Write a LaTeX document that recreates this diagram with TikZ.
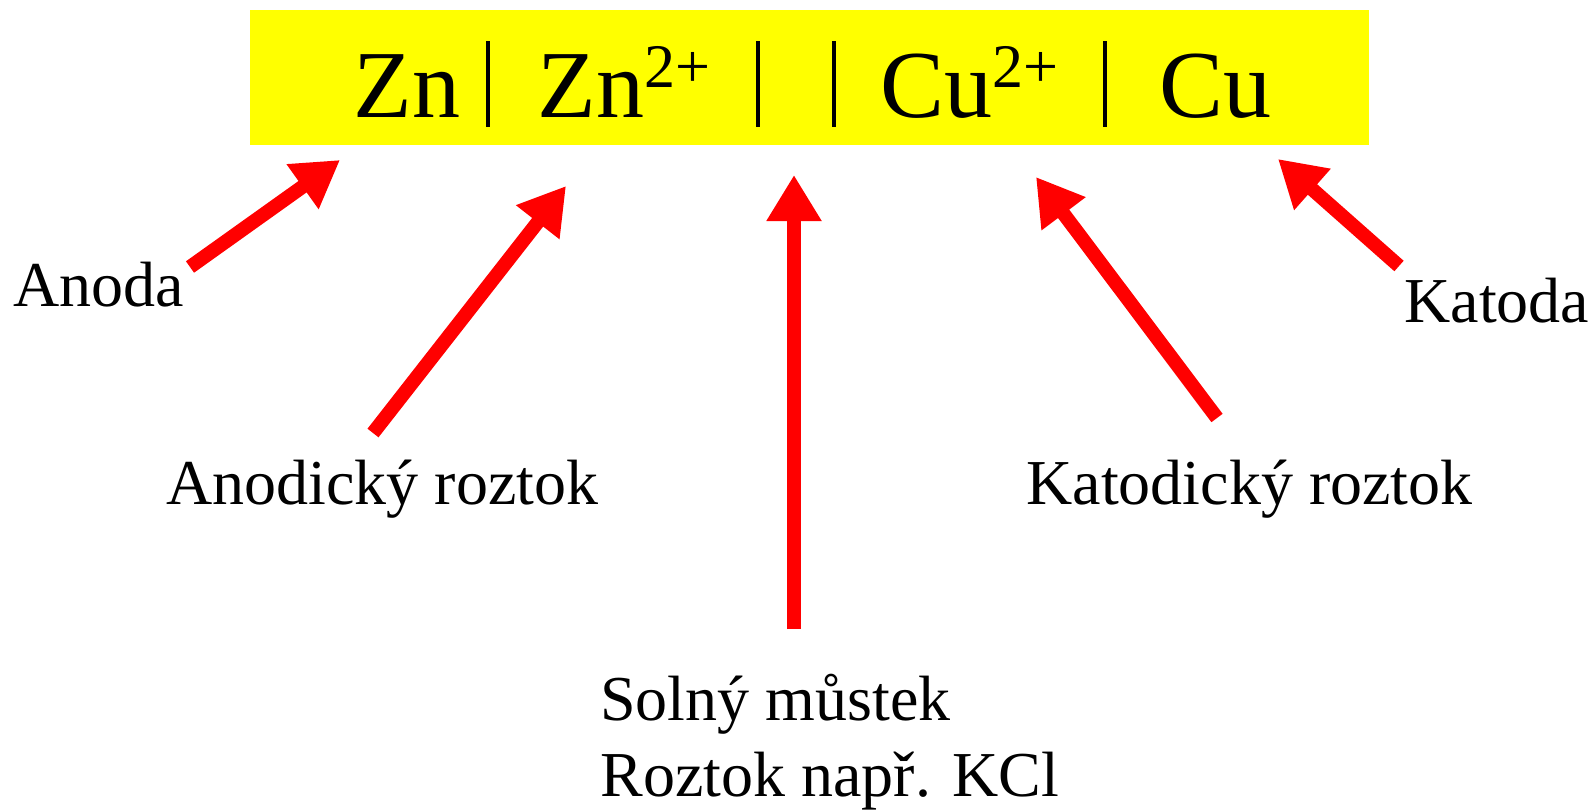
\documentclass[tikz,border=0pt]{standalone}
\usepackage{fontspec}
\setmainfont{Liberation Serif}
\usetikzlibrary{arrows.meta}
\definecolor{pruhzluta}{RGB}{255,255,0}
\definecolor{sipkacervena}{RGB}{255,0,0}
\newcommand{\naboj}[1]{\raisebox{15pt}{\fontsize{31}{31}\selectfont #1}}
\tikzset{
  clanek/.style={anchor=base west, inner sep=0pt, font=\fontsize{48}{50}\selectfont},
  popis/.style={anchor=base west, inner sep=0pt, font=\fontsize{32}{36}\selectfont},
  sipka/.style={->, line width=7pt, draw=sipkacervena},
  rozhrani/.style={line width=2pt}
}
\begin{document}
\begin{tikzpicture}[x=0.5pt, y=-0.5pt, >={Triangle[length=23pt,width=26pt]}]
  \useasboundingbox (0,0) rectangle (1590,809);

  % Zluty pruh se zapisem clanku
  \fill[pruhzluta] (250,10) rectangle (1369,145);
  \node[clanek] (zn) at (353,117) {Zn};
  \node[clanek] (znion) at (537,117) {Zn\naboj{2+}};
  \node[clanek] (cuion) at (880,117) {Cu\naboj{2+}};
  \node[clanek] (cu) at (1159,117) {Cu};

  % Fazova rozhrani
  \foreach \x in {488,758,834,1105}
    \draw[rozhrani] (\x,41) -- (\x,127);

  % Popisky
  \node[popis] (anoda) at (13,306) {Anoda};
  \node[popis] (anodroz) at (166,504) {Anodický roztok};
  \node[popis] (solny) at (600,720) {Solný můstek};
  \node[popis] (roztok) at (600,796) {Roztok např. KCl};
  \node[popis] (katodroz) at (1026,504) {Katodický roztok};
  \node[popis] (katoda) at (1404,322) {Katoda};

  % Sipky
  \coordinate (anodaA) at (190,267);  \coordinate (anodaB) at (340,160);
  \coordinate (anodrozA) at (373,433); \coordinate (anodrozB) at (566,186);
  \coordinate (mustekA) at (794,629); \coordinate (mustekB) at (794,175);
  \coordinate (katodrozA) at (1217,418); \coordinate (katodrozB) at (1036,177);
  \coordinate (katodaA) at (1399,266); \coordinate (katodaB) at (1278,159);

  \draw[sipka] (anodaA) -- (anodaB);
  \draw[sipka] (anodrozA) -- (anodrozB);
  \draw[sipka] (mustekA) -- (mustekB);
  \draw[sipka] (katodrozA) -- (katodrozB);
  \draw[sipka] (katodaA) -- (katodaB);
\end{tikzpicture}
\end{document}
